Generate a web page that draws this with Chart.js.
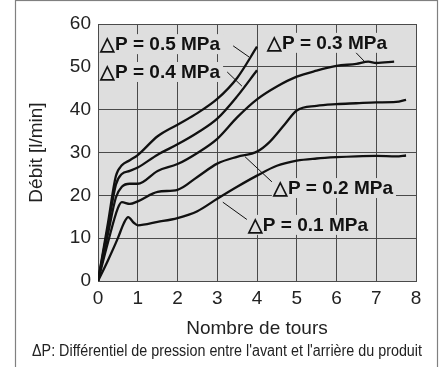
<!DOCTYPE html>
<html>
<head>
<meta charset="utf-8">
<script src="https://cdn.jsdelivr.net/npm/chart.js@4.4.1/dist/chart.umd.min.js"></script>
<style>
  html, body { margin: 0; padding: 0; background: #fff; }
  canvas { display: block; }
</style>
</head>
<body>
<canvas id="flowChart" width="442" height="367"></canvas>
<script>
// turns (x) and flow in l/min (y) for each pressure differential
const x01 = [0, 0.25, 0.5, 0.65, 0.76, 0.9, 1.0, 1.5, 2.0, 2.5, 3.0, 3.5, 4.0, 4.5, 5.0, 5.5, 6.0, 6.5, 7.0, 7.5, 7.75];
const y01 = [0, 4.8, 10, 13.5, 14.9, 13.6, 13.0, 13.8, 14.7, 16.3, 19.2, 22.0, 24.6, 26.9, 28.1, 28.6, 28.9, 29.1, 29.2, 29.1, 29.3];

const x02 = [0, 0.25, 0.5, 0.6, 0.8, 1.0, 1.5, 2.0, 2.5, 3.0, 3.5, 4.0, 4.3, 4.7, 5.0, 5.5, 6.0, 6.5, 7.0, 7.5, 7.75];
const y02 = [0, 9, 17, 18.4, 18.0, 18.6, 20.8, 21.3, 24.3, 27.4, 29.0, 30.2, 32.3, 36.6, 39.8, 40.9, 41.3, 41.5, 41.7, 41.8, 42.3];

const x03 = [0, 0.25, 0.45, 0.6, 0.8, 1.0, 1.5, 2.0, 2.5, 3.0, 3.5, 4.0, 4.5, 5.0, 5.5, 6.0, 6.5, 6.8, 7.0, 7.45];
const y03 = [0, 11, 19.5, 22.0, 22.7, 22.7, 25.7, 27.3, 29.9, 33.2, 38.2, 42.4, 45.4, 47.7, 49.1, 50.2, 50.7, 51.2, 50.9, 51.2];

const x04 = [0, 0.25, 0.45, 0.6, 0.8, 1.0, 1.5, 2.0, 2.5, 3.0, 3.5, 4.0];
const y04 = [0, 12.5, 22.5, 25.0, 25.7, 26.5, 29.5, 31.9, 34.6, 37.9, 43.1, 49.2];

const x05 = [0, 0.25, 0.45, 0.6, 0.8, 1.0, 1.5, 2.0, 2.5, 3.0, 3.5, 4.0];
const y05 = [0, 13.5, 24.5, 27.0, 28.2, 29.4, 33.8, 36.5, 39.2, 42.5, 47.4, 54.7];

// curve labels: text, anchor (left edge, middle) and leader line, in data units
const labelTexts = ["\u25B3P = 0.5 MPa", "\u25B3P = 0.4 MPa", "\u25B3P = 0.3 MPa", "\u25B3P = 0.2 MPa", "\u25B3P = 0.1 MPa"];
const labelPos = [[0.05, 55.3], [0.05, 48.8], [4.25, 55.6], [4.40, 21.7], [3.77, 13.1]];
const leaderFrom = [[3.40, 54.9], [3.25, 48.8], [6.47, 53.5], [3.70, 29.0], [3.14, 18.4]];
const leaderTo = [[3.80, 52.3], [3.62, 45.5], [6.72, 51.1], [4.38, 23.1], [3.77, 14.2]];

const footnote = "\u0394P: Diff\u00e9rentiel de pression entre l'avant et l'arri\u00e8re du produit";

const plotBg = "#dedede";
const gridColor = "#4a4a4a";

function toPoints(xs, ys) {
    return xs.map((x, i) => ({ x: x, y: ys[i] }));
}

const series = [[x01, y01], [x02, y02], [x03, y03], [x04, y04], [x05, y05]];

const framePlugin = {
    id: "frame",
    beforeDraw(chart) {
        const c = chart.ctx;
        const a = chart.chartArea;
        c.save();
        c.fillStyle = "#fff";
        c.fillRect(0, 0, chart.width, chart.height);
        c.strokeStyle = "#808080";
        c.lineWidth = 1.2;
        c.strokeRect(15.5, 0.5, 422, 400);
        c.fillStyle = plotBg;
        c.fillRect(a.left, a.top, a.right - a.left, a.bottom - a.top);
        c.restore();
    },
    afterDraw(chart) {
        // condensed footnote under the axis title
        const c = chart.ctx;
        c.save();
        c.font = "16px 'Liberation Sans', Arial, sans-serif";
        c.fillStyle = "#222";
        c.textAlign = "center";
        c.textBaseline = "middle";
        const w = c.measureText(footnote).width;
        c.translate(227, 352);
        c.scale(390 / w, 1);
        c.fillText(footnote, 0, 0);
        c.restore();
    }
};

const labelPlugin = {
    id: "curveLabels",
    afterDatasetsDraw(chart) {
        const c = chart.ctx;
        const sx = chart.scales.x;
        const sy = chart.scales.y;
        c.save();
        c.strokeStyle = "#111";
        c.lineWidth = 1;
        leaderFrom.forEach((p, i) => {
            c.beginPath();
            c.moveTo(sx.getPixelForValue(p[0]), sy.getPixelForValue(p[1]));
            c.lineTo(sx.getPixelForValue(leaderTo[i][0]), sy.getPixelForValue(leaderTo[i][1]));
            c.stroke();
        });
        c.font = "bold 19px 'Liberation Sans', Arial, sans-serif";
        c.textBaseline = "middle";
        c.textAlign = "left";
        labelTexts.forEach((t, i) => {
            const x = sx.getPixelForValue(labelPos[i][0]);
            const y = sy.getPixelForValue(labelPos[i][1]);
            const w = c.measureText(t).width;
            c.fillStyle = plotBg;
            c.fillRect(x - 1, y - 10, w + 4, 20);
            c.fillStyle = "#111";
            c.fillText(t, x, y + 1);
        });
        c.restore();
    }
};

const ctx = document.getElementById("flowChart").getContext("2d");

new Chart(ctx, {
    type: "line",
    data: {
        datasets: series.map(s => ({
            data: toPoints(s[0], s[1]),
            borderColor: "#111",
            borderWidth: 2.3,
            pointRadius: 0,
            fill: false,
            cubicInterpolationMode: "monotone"
        }))
    },
    options: {
        responsive: false,
        animation: false,
        devicePixelRatio: 1,
        layout: { padding: { left: 0, top: 24, right: 26, bottom: 24.2 } },
        plugins: {
            legend: { display: false },
            tooltip: { enabled: false }
        },
        scales: {
            x: {
                type: "linear",
                min: 0,
                max: 8,
                ticks: { stepSize: 1, color: "#222", padding: 6, font: { family: "'Liberation Sans', Arial", size: 19 } },
                grid: { color: gridColor, drawTicks: false },
                border: { color: gridColor },
                title: {
                    display: true,
                    text: "Nombre de tours",
                    color: "#222",
                    font: { family: "'Liberation Sans', Arial", size: 19 },
                    padding: { top: 0, bottom: 3 }
                },
                afterFit(s) { s.height = 61.8; }
            },
            y: {
                min: 0,
                max: 60,
                ticks: { stepSize: 10, color: "#222", padding: 7, font: { family: "'Liberation Sans', Arial", size: 19 } },
                grid: { color: gridColor, drawTicks: false },
                border: { color: gridColor },
                title: {
                    display: true,
                    text: "D\u00e9bit [l/min]",
                    color: "#222",
                    font: { family: "'Liberation Sans', Arial", size: 19 },
                    padding: { top: 25, bottom: 0 }
                },
                afterFit(s) { s.width = 98; }
            }
        }
    },
    plugins: [framePlugin, labelPlugin]
});
</script>
</body>
</html>
